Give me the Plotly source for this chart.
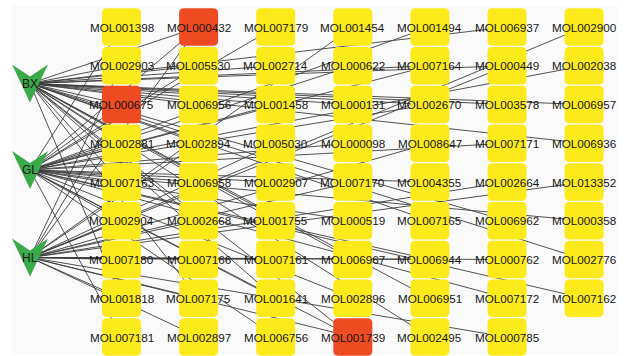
import plotly.graph_objects as go

# ---- data ----
col1 = ["MOL001398", "MOL002903", "MOL000675", "MOL002881", "MOL007163", "MOL002904", "MOL007180", "MOL001818", "MOL007181"]
col2 = ["MOL000432", "MOL005530", "MOL006956", "MOL002894", "MOL006958", "MOL002668", "MOL007166", "MOL007175", "MOL002897"]
col3 = ["MOL007179", "MOL002714", "MOL001458", "MOL005030", "MOL002907", "MOL001755", "MOL007161", "MOL001641", "MOL006756"]
col4 = ["MOL001454", "MOL000622", "MOL000131", "MOL000098", "MOL007170", "MOL000519", "MOL006967", "MOL002896", "MOL001739"]
col5 = ["MOL001494", "MOL007164", "MOL002670", "MOL008647", "MOL004355", "MOL007165", "MOL006944", "MOL006951", "MOL002495"]
col6 = ["MOL006937", "MOL000449", "MOL003578", "MOL007171", "MOL002664", "MOL006962", "MOL000762", "MOL007172", "MOL000785"]
col7 = ["MOL002900", "MOL002038", "MOL006957", "MOL006936", "MOL013352", "MOL000358", "MOL002776", "MOL007162"]

herbs = ["BX", "GL", "HL"]
common = ["MOL000432", "MOL000675", "MOL001739"]

BX_targets = ["MOL000432", "MOL000675", "MOL001739", "MOL006957", "MOL006936", "MOL002776", "MOL006937",
              "MOL000449", "MOL003578", "MOL006962", "MOL007164", "MOL002670", "MOL007165", "MOL006951",
              "MOL002495", "MOL000131", "MOL006967", "MOL002714", "MOL001458", "MOL001755", "MOL001641",
              "MOL005530", "MOL006956", "MOL002894", "MOL002668", "MOL007175", "MOL002903", "MOL002881",
              "MOL007163", "MOL001818"]
GL_targets = ["MOL000432", "MOL000675", "MOL001739", "MOL002038", "MOL000358", "MOL007162", "MOL007171",
              "MOL007172", "MOL001494", "MOL007164", "MOL002670", "MOL004355", "MOL006944", "MOL000622",
              "MOL000098", "MOL000519", "MOL002896", "MOL007179", "MOL001458", "MOL002907", "MOL001641",
              "MOL006756", "MOL005530", "MOL006958", "MOL001398", "MOL002881", "MOL007163", "MOL002904",
              "MOL007181"]
HL_targets = ["MOL000432", "MOL000675", "MOL001739", "MOL002900", "MOL013352", "MOL000449", "MOL002664",
              "MOL000762", "MOL000785", "MOL008647", "MOL006944", "MOL001454", "MOL007170", "MOL005030",
              "MOL007161", "MOL002894", "MOL002668", "MOL007166", "MOL007175", "MOL002897", "MOL002903",
              "MOL002904", "MOL007180", "MOL001818"]

# ---- layout geometry (pixel-like coordinates) ----
W, H = 626, 356
X0, DX = 121.5, 77.1
Y0, DY = 27.0, 38.75
NW, NH, NR = 39.0, 37.5, 5.0
HERB_X = 30.0
HERB_Y = [83.5, 170.0, 257.5]
TW, TH = 36.0, 38.0

YELLOW = "#FCEA1B"
RED = "#EE4B23"
GREEN = "#3BAA4A"

columns = [col1, col2, col3, col4, col5, col6, col7]
pos = {}
for ci, col in enumerate(columns):
    for ri, name in enumerate(col):
        pos[name] = (X0 + DX * ci, Y0 + DY * ri)
for hi, h in enumerate(herbs):
    pos[h] = (HERB_X, HERB_Y[hi])

targets = {"BX": BX_targets, "GL": GL_targets, "HL": HL_targets}

ex, ey = [], []
for h in herbs:
    hx, hy = pos[h]
    for t in targets[h]:
        tx, ty = pos[t]
        ex += [hx, tx, None]
        ey += [hy, ty, None]

fig = go.Figure()
fig.add_trace(go.Scatter(x=ex, y=ey, mode="lines",
                         line=dict(color="#3d3d3d", width=0.9),
                         hoverinfo="skip", showlegend=False))

shapes = [dict(type="rect", xref="x", yref="y", x0=12, x1=618, y0=5, y1=355,
               fillcolor="#fafafa", line=dict(width=0), layer="below")]


def rrect(cx, cy, w, h, r):
    x0, x1 = cx - w / 2, cx + w / 2
    y0, y1 = cy - h / 2, cy + h / 2
    return (f"M {x0+r},{y0} L {x1-r},{y0} Q {x1},{y0} {x1},{y0+r} "
            f"L {x1},{y1-r} Q {x1},{y1} {x1-r},{y1} L {x0+r},{y1} "
            f"Q {x0},{y1} {x0},{y1-r} L {x0},{y0+r} Q {x0},{y0} {x0+r},{y0} Z")


annotations = []
for col in columns:
    for name in col:
        cx, cy = pos[name]
        shapes.append(dict(type="path", xref="x", yref="y", path=rrect(cx, cy, NW, NH, NR),
                           fillcolor=RED if name in common else YELLOW,
                           line=dict(width=0), layer="above"))
        annotations.append(dict(x=cx, y=cy, xref="x", yref="y", text=name, showarrow=False,
                                font=dict(family="Liberation Sans, Arial", size=11.7, color="#161616")))

for h in herbs:
    cx, cy = pos[h]
    path = (f"M {cx-TW/2},{cy-TH/2} L {cx},{cy-TH/2+12} L {cx+TW/2},{cy-TH/2} "
            f"L {cx},{cy+TH/2} Z")
    shapes.append(dict(type="path", xref="x", yref="y", path=path, fillcolor=GREEN,
                       line=dict(width=0), layer="above"))
    annotations.append(dict(x=cx, y=cy, xref="x", yref="y", text=h, showarrow=False,
                            font=dict(family="Liberation Sans, Arial", size=12, color="#161616")))

fig.update_layout(
    width=W, height=H, margin=dict(l=0, r=0, t=0, b=0),
    paper_bgcolor="white", plot_bgcolor="white",
    xaxis=dict(range=[0, W], visible=False, fixedrange=True),
    yaxis=dict(range=[H, 0], visible=False, fixedrange=True),
    shapes=shapes, annotations=annotations, showlegend=False,
)

fig.write_html("out.html", config={"displayModeBar": False},
               post_script="document.body.style.margin='0';document.body.style.overflow='hidden';")
